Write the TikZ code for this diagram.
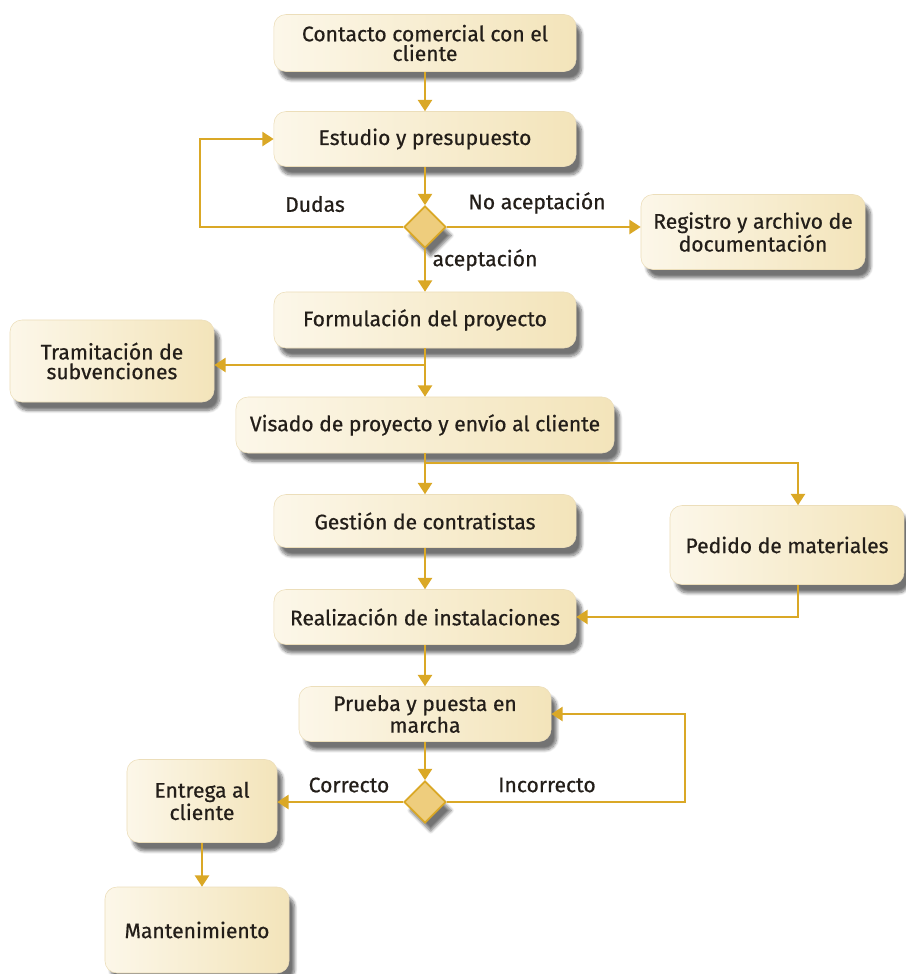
\documentclass[tikz,border=0pt]{standalone}
\usepackage{fontspec}
\setmainfont{Fira Sans}[FakeBold=0.6]
\usetikzlibrary{arrows.meta,shapes.geometric,shadows.blur}

\definecolor{flowgold}{RGB}{218,168,38}
\definecolor{creamlight}{RGB}{252,247,233}
\definecolor{creamdark}{RGB}{243,228,186}
\definecolor{creamedge}{RGB}{236,222,186}
\definecolor{diafill}{RGB}{238,205,125}
\definecolor{inktext}{RGB}{35,30,25}

\tikzset{
  stepbox/.style={rectangle, rounded corners=0.3cm, draw=creamedge, line width=0.4pt,
    left color=creamlight, right color=creamdark, align=center, text=inktext,
    font=\fontsize{15}{14}\selectfont, inner sep=2pt,
    blur shadow={shadow xshift=4pt, shadow yshift=-6pt, shadow blur steps=8, shadow opacity=55}},
  choice/.style={diamond, draw=flowgold, line width=1.2pt, fill=diafill,
    minimum width=1.05cm, minimum height=1.05cm, inner sep=0pt,
    blur shadow={shadow xshift=4pt, shadow yshift=-6pt, shadow blur steps=8, shadow opacity=55}},
  flow/.style={draw=flowgold, line width=1.4pt, -{Triangle[width=10pt,length=8pt]}},
  tag/.style={text=inktext, font=\fontsize{15}{14}\selectfont}
}

\begin{document}
\begin{tikzpicture}[x=0.025cm, y=-0.025cm]
\useasboundingbox (0,0) rectangle (906,974);

\node[stepbox, minimum width=7.55cm, minimum height=1.425cm] (contacto) at (425,43) {Contacto comercial con el\\cliente};
\node[stepbox, minimum width=7.55cm, minimum height=1.375cm] (estudio) at (425,139) {Estudio y presupuesto};
\node[choice] (dec1) at (425,227) {};
\node[stepbox, minimum width=5.6cm, minimum height=1.875cm] (registro) at (753,232) {Registro y archivo de\\documentaci\'on};
\node[stepbox, minimum width=7.55cm, minimum height=1.4cm] (formul) at (425,320) {Formulaci\'on del proyecto};
\node[stepbox, minimum width=5.1cm, minimum height=2.05cm] (tramit) at (112,361) {Tramitaci\'on de\\subvenciones};
\node[stepbox, minimum width=9.45cm, minimum height=1.4cm] (visado) at (425,425) {Visado de proyecto y env\'io al cliente};
\node[stepbox, minimum width=7.55cm, minimum height=1.325cm] (gestion) at (425,521) {Gesti\'on de contratistas};
\node[stepbox, minimum width=5.85cm, minimum height=1.975cm] (pedido) at (787,545) {Pedido de materiales};
\node[stepbox, minimum width=7.55cm, minimum height=1.375cm] (realiz) at (425,617) {Realizaci\'on de instalaciones};
\node[stepbox, minimum width=6.3cm, minimum height=1.375cm] (prueba) at (425,714) {Prueba y puesta en\\marcha};
\node[choice] (dec2) at (425,802) {};
\node[stepbox, minimum width=3.75cm, minimum height=2.075cm] (entrega) at (202,801) {Entrega al\\cliente};
\node[stepbox, minimum width=4.6cm, minimum height=2.15cm] (mant) at (197,930) {Mantenimiento};

\node[tag] (dudas) at (315,204) {Dudas};
\node[tag] (noacep) at (537,203) {No aceptaci\'on};
\node[tag] (acep) at (485,260) {aceptaci\'on};
\node[tag] (correcto) at (349,785) {Correcto};
\node[tag] (incorr) at (547,785) {Incorrecto};

\coordinate (dudasloop) at (200,227);
\coordinate (split1) at (425,365);
\coordinate (split2) at (425,463);
\coordinate (split2end) at (798,463);
\coordinate (incloop) at (685,802);

\draw[flow] (contacto) -- (estudio);
\draw[flow] (estudio) -- (dec1);
\draw[flow] (dec1.west) -- (dudasloop) |- (estudio.west);
\draw[flow] (dec1.east) -- (dec1.east -| registro.west);
\draw[flow] (dec1) -- (formul);
\draw[flow] (formul) -- (visado);
\draw[flow] (split1) -- (split1 -| tramit.east);
\draw[flow] (visado) -- (gestion);
\draw[flow] (split2) -- (split2end) -- (split2end |- pedido.north);
\draw[flow] (split2end |- pedido.south) |- (realiz.east);
\draw[flow] (gestion) -- (realiz);
\draw[flow] (realiz) -- (prueba);
\draw[flow] (prueba) -- (dec2);
\draw[flow] (dec2.west) -- (dec2.west -| entrega.east);
\draw[flow] (dec2.east) -- (incloop) |- (prueba.east);
\draw[flow] (entrega.south) -- (entrega.south |- mant.north);
\end{tikzpicture}
\end{document}
